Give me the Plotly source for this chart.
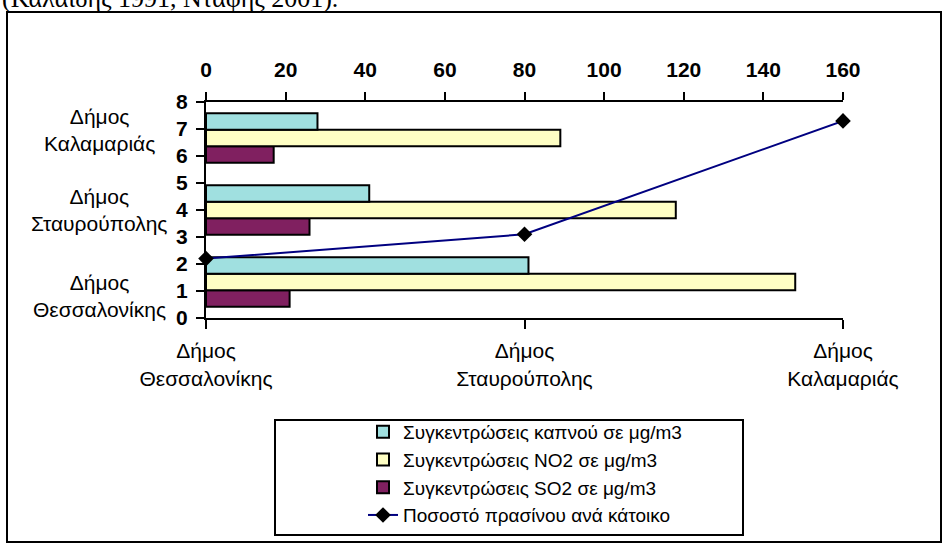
import plotly.graph_objects as go

# ---- data ----
categories = ["Δήμος Θεσσαλονίκης", "Δήμος Σταυρούπολης", "Δήμος Καλαμαριάς"]
smoke = [81, 41, 28]          # Συγκεντρώσεις καπνού σε μg/m3
no2 = [148, 118, 89]          # Συγκεντρώσεις NO2 σε μg/m3
so2 = [21, 26, 17]            # Συγκεντρώσεις SO2 σε μg/m3
green = [2.2, 3.1, 7.3]       # Ποσοστό πρασίνου ανά κάτοικο
names = ["Συγκεντρώσεις καπνού σε μg/m3",
         "Συγκεντρώσεις NO2 σε μg/m3",
         "Συγκεντρώσεις SO2 σε μg/m3",
         "Ποσοστό πρασίνου ανά κάτοικο"]
bar_axis_range = [0, 160]
bar_axis_step = 20
line_axis_range = [0, 8]
line_axis_step = 1
source_note = "(Καλαιδής 1991, Νταφής 2001)."

# ---- layout geometry (pixels) ----
W, H = 948, 547
L, R, T, B = 206, 843, 102, 318


def px(x):
    return (x - L) / (R - L)


def py(y):
    return (B - y) / (B - T)


labels = [c.replace(" ", "<br>") for c in categories]
SANS = "Liberation Sans, Arial, sans-serif"
colors = {"smoke": "#A0E0E0", "no2": "#FFFFC4", "so2": "#802060"}

fig = go.Figure()
# bars: first trace sits lowest within each group, so SO2 first
fig.add_trace(go.Bar(y=labels, x=so2, orientation="h", name=names[2],
                     marker=dict(color=colors["so2"], line=dict(color="black", width=2)),
                     legendrank=3))
fig.add_trace(go.Bar(y=labels, x=no2, orientation="h", name=names[1],
                     marker=dict(color=colors["no2"], line=dict(color="black", width=2)),
                     legendrank=2))
fig.add_trace(go.Bar(y=labels, x=smoke, orientation="h", name=names[0],
                     marker=dict(color=colors["smoke"], line=dict(color="black", width=2)),
                     legendrank=1))
fig.add_trace(go.Scatter(x=labels, y=green, xaxis="x2", yaxis="y2", name=names[3],
                         mode="lines+markers",
                         line=dict(color="#000080", width=2),
                         marker=dict(symbol="diamond", size=12, color="black"),
                         legendrank=4, cliponaxis=False))

tickfont_bold = dict(family=SANS, size=21, color="black", weight="bold")

# category labels at the left (centred two-line text, as in the original)
label_yshift = [-14, 0, 8]
annotations = []
for lab, ys in zip(labels, label_yshift):
    annotations.append(dict(x=px(99), xref="paper", y=lab, yref="y", yshift=ys,
                            text=lab, showarrow=False, xanchor="center", yanchor="middle",
                            align="center", font=dict(family=SANS, size=21, color="black")))
annotations.append(dict(x=0, xref="paper", y=py(15), yref="paper", text=source_note,
                        showarrow=False, xanchor="left", yanchor="bottom", xshift=-L,
                        font=dict(family="Liberation Serif, Times New Roman, serif", size=26, color="black")))

shapes = [
    dict(type="rect", xref="paper", yref="paper", x0=px(7), x1=px(941), y0=py(12), y1=py(542),
         line=dict(color="black", width=2), fillcolor="rgba(0,0,0,0)", layer="below"),
    dict(type="rect", xref="paper", yref="paper", x0=px(275), x1=px(743), y0=py(420), y1=py(535),
         line=dict(color="black", width=2), fillcolor="rgba(0,0,0,0)"),
]

fig.update_layout(
    width=W, height=H,
    margin=dict(l=L, r=W - R, t=T, b=H - B, pad=0, autoexpand=False),
    paper_bgcolor="white", plot_bgcolor="white",
    barmode="group", bargap=0.31, bargroupgap=0,
    showlegend=True,
    legend=dict(xref="container", yref="container", x=363 / W, y=1 - 413 / H,
                xanchor="left", yanchor="top",
                font=dict(family=SANS, size=19, color="black"),
                bgcolor="rgba(0,0,0,0)", borderwidth=0, traceorder="normal"),
    xaxis=dict(side="top", range=bar_axis_range, dtick=bar_axis_step, tick0=0,
               showgrid=False, zeroline=False, showline=True, linecolor="black", linewidth=2,
               ticks="outside", ticklen=8, tickwidth=2, tickcolor="black",
               tickfont=tickfont_bold, ticklabelstandoff=7),
    xaxis3=dict(overlaying="x", side="top", anchor="y", range=bar_axis_range,
                dtick=bar_axis_step, tick0=0, showgrid=False, zeroline=False, showline=False,
                ticks="inside", ticklen=7, tickwidth=2, tickcolor="black", showticklabels=False),
    yaxis=dict(type="category", categoryorder="array", categoryarray=labels,
               range=[-0.5, len(labels) - 0.5], showticklabels=False, showgrid=False,
               zeroline=False, showline=False, ticks=""),
    xaxis2=dict(overlaying="x", side="bottom", anchor="y", type="category",
                categoryorder="array", categoryarray=labels, range=[0, len(labels) - 1],
                showgrid=False, zeroline=False, showline=True, linecolor="black", linewidth=2,
                ticks="outside", ticklen=9, tickwidth=2, tickcolor="black",
                tickfont=dict(family=SANS, size=21, color="black"), ticklabelstandoff=4),
    yaxis2=dict(overlaying="y", side="left", anchor="x", range=line_axis_range,
                dtick=line_axis_step, tick0=0, showgrid=False, zeroline=False,
                showline=True, linecolor="black", linewidth=2,
                ticks="outside", ticklen=8, tickwidth=2, tickcolor="black",
                tickfont=tickfont_bold, ticklabelstandoff=4),
    annotations=annotations,
    shapes=shapes,
)

fig.write_html("out.html", config={"displayModeBar": False},
               post_script="document.body.style.margin='0';")
